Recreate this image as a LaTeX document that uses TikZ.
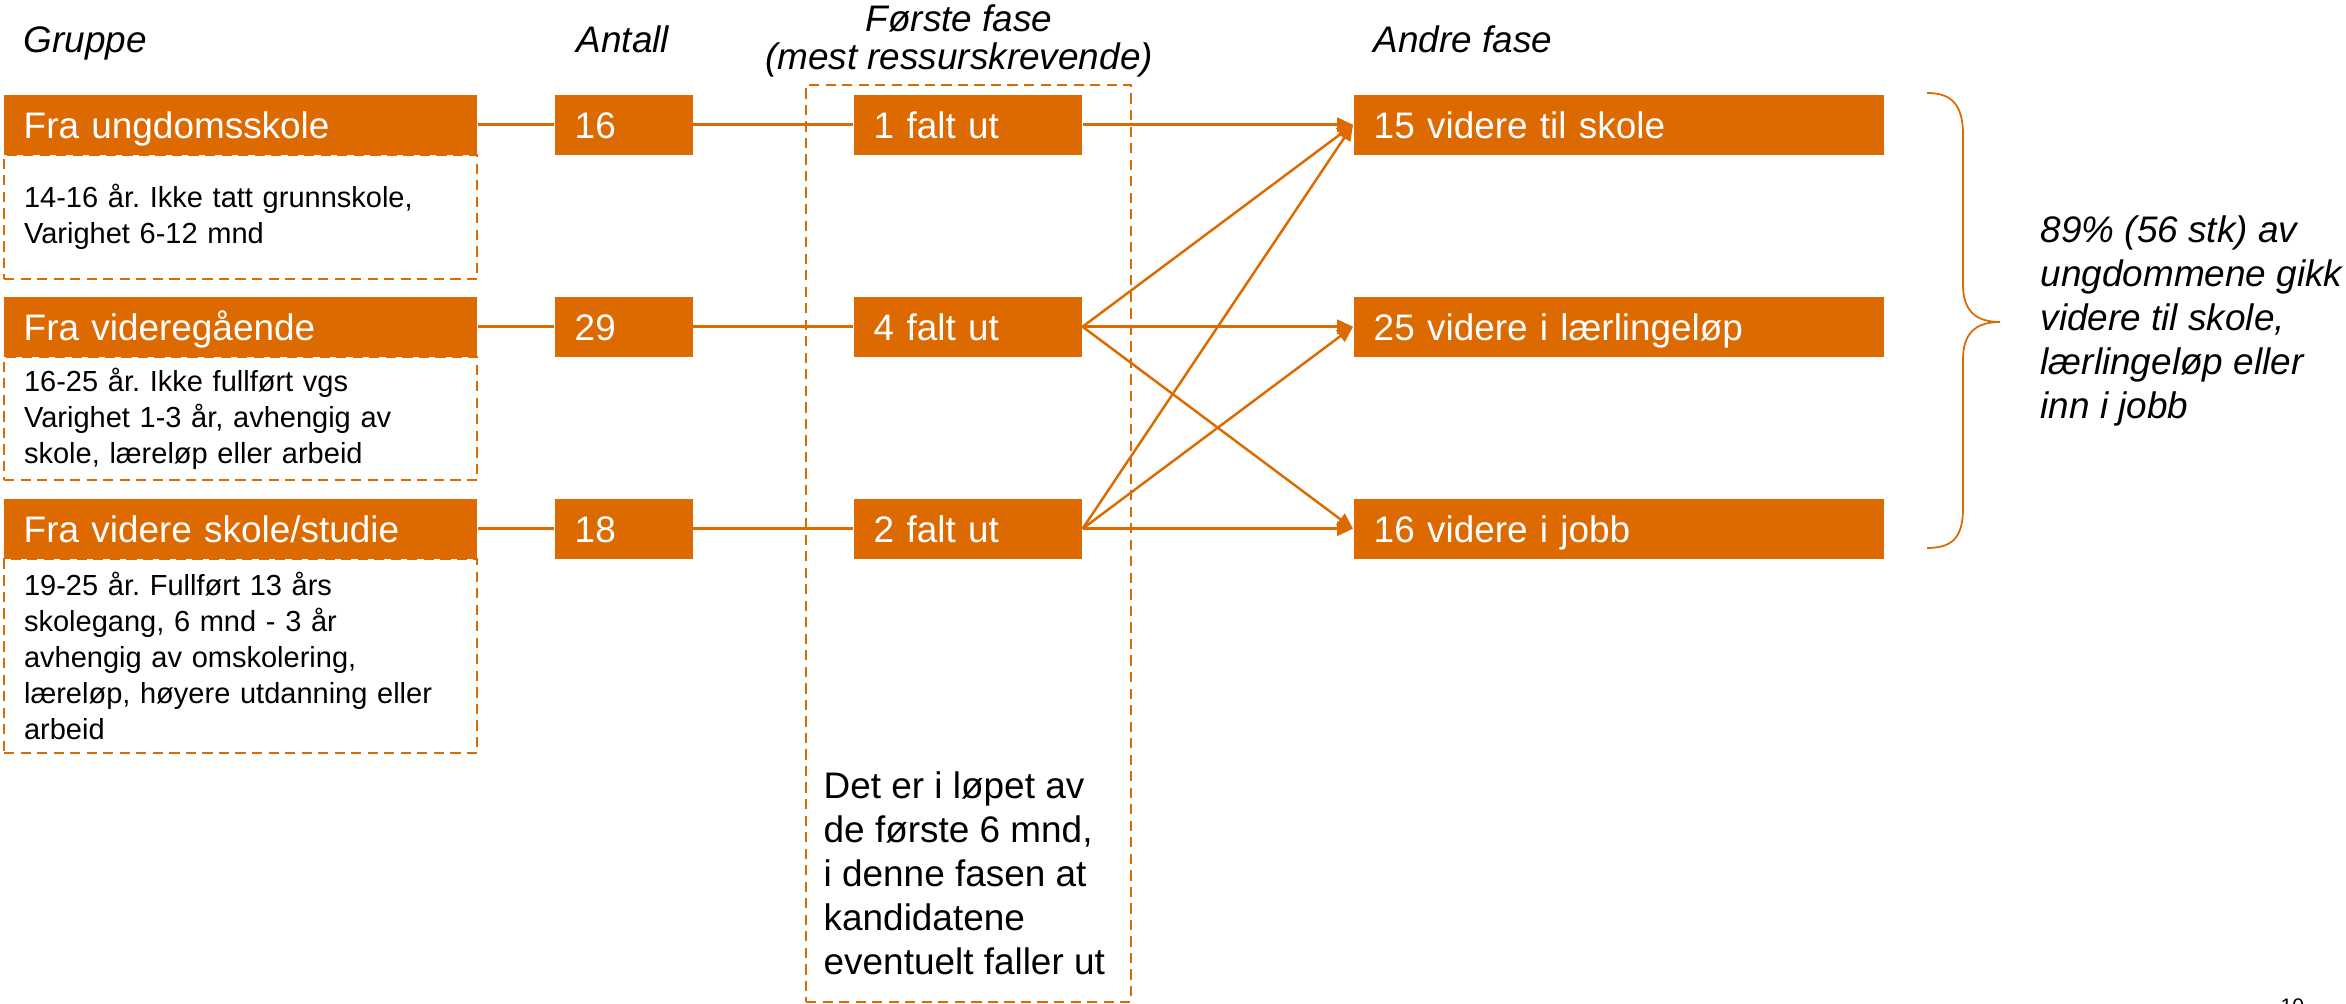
\documentclass[tikz,border=0pt]{standalone}
\usepackage{fontspec}
\setmainfont{Liberation Sans}
\usetikzlibrary{arrows.meta}
\definecolor{orng}{RGB}{220,106,0}
\frenchspacing
\begin{document}
\begin{tikzpicture}[x=0.01cm, y=-0.01cm,
  bigtxt/.style={font=\fontsize{10.5}{12.5}\selectfont},
  obox/.style={fill=orng, text=white, font=\fontsize{10.5}{12.5}\selectfont, anchor=north west, minimum height=0.6cm, inner xsep=0.2cm, inner ysep=0pt, text height=0.27cm, text depth=0pt, align=left},
  dbox/.style={draw=orng, dash pattern=on 2.9pt off 1.8pt, line width=0.6pt, anchor=north west, inner xsep=0.2cm, inner ysep=0pt, align=left, font=\fontsize{8.25}{10.25}\selectfont},
  conn/.style={draw=orng, line width=0.7pt},
  arr/.style={conn, -{Triangle[length=4.5pt,width=4pt]}},
  head/.style={font=\fontsize{10.5}{12.5}\selectfont\itshape, inner sep=0pt}
]
\useasboundingbox (0,0) rectangle (2346,1004);

% headers
\node[head, anchor=base west] (hg) at (23,53) {Gruppe};
\node[head, anchor=base west] (ha) at (576,53) {Antall};
\node[head, anchor=base] (hf1) at (959,32) {Første fase};
\node[head, anchor=base] (hf2) at (959,70) {(mest ressurskrevende)};
\node[head, anchor=base west] (hb) at (1373,53) {Andre fase};

% phase box
\node[draw=orng, dash pattern=on 2.9pt off 1.8pt, line width=0.6pt, anchor=north west, minimum width=3.25cm, minimum height=9.16cm, inner sep=0pt] (phase) at (805,84) {};

% description boxes
\node[dbox, text width=4.33cm, minimum height=1.24cm] (d1) at (3,154) {14-16 år. Ikke tatt grunnskole,\\Varighet 6-12 mnd};
\node[dbox, text width=4.33cm, minimum height=1.23cm] (d2) at (3,356) {16-25 år. Ikke fullført vgs\\Varighet 1-3 år, avhengig av\\skole, læreløp eller arbeid};
\node[dbox, text width=4.33cm, minimum height=1.94cm] (d3) at (3,558) {19-25 år. Fullført 13 års\\skolegang, 6 mnd - 3 år\\avhengig av omskolering,\\læreløp, høyere utdanning eller\\arbeid};

% group boxes
\node[obox, text width=4.33cm] (g1) at (3,94) {Fra ungdomsskole};
\node[obox, text width=4.33cm] (g2) at (3,296) {Fra videregående};
\node[obox, text width=4.33cm] (g3) at (3,498) {Fra videre skole/studie};

% count boxes
\node[obox, text width=0.98cm] (c1) at (554,94) {16};
\node[obox, text width=0.98cm] (c2) at (554,296) {29};
\node[obox, text width=0.98cm] (c3) at (554,498) {18};

% first phase boxes
\node[obox, text width=1.88cm] (f1) at (853,94) {1 falt ut};
\node[obox, text width=1.88cm] (f2) at (853,296) {4 falt ut};
\node[obox, text width=1.88cm] (f3) at (853,498) {2 falt ut};

% result boxes
\node[obox, text width=4.90cm] (r1) at (1353,94) {15 videre til skole};
\node[obox, text width=4.90cm] (r2) at (1353,296) {25 videre i lærlingeløp};
\node[obox, text width=4.90cm] (r3) at (1353,498) {16 videre i jobb};

% connectors
\foreach \i in {1,2,3} {
  \draw[conn] (g\i.east) -- (c\i.west);
  \draw[conn] (c\i.east) -- (f\i.west);
}
\draw[arr] (f1.east) -- (r1.west);
\draw[arr] (f2.east) -- (r1.west);
\draw[arr] (f2.east) -- (r2.west);
\draw[arr] (f2.east) -- (r3.west);
\draw[arr] (f3.east) -- (r1.west);
\draw[arr] (f3.east) -- (r2.west);
\draw[arr] (f3.east) -- (r3.west);

% note in phase box
\node[bigtxt, anchor=north west, inner sep=0pt, align=left] (note) at (823,771) {Det er i løpet av\\de første 6 mnd,\\i denne fasen at\\kandidatene\\eventuelt faller ut};

% brace
\draw[orng, line width=0.5pt] (1927,93) .. controls (1952,93) and (1963,105) .. (1963,135) -- (1963,285) .. controls (1963,310) and (1975,322) .. (2000,322) .. controls (1975,322) and (1963,334) .. (1963,359) -- (1963,508) .. controls (1963,538) and (1952,548) .. (1927,548);

% summary text
\node[font=\fontsize{10.5}{12.5}\selectfont\itshape, anchor=north west, inner sep=0pt, align=left] (sum) at (2040,215) {89\% (56 stk) av\\ungdommene gikk\\videre til skole,\\lærlingeløp eller\\inn i jobb};

% page number (cut off at the bottom edge, as in the reference)
\node[font=\fontsize{6}{7}\selectfont, anchor=north west, inner sep=0pt] (pg) at (2280,998) {10};
\end{tikzpicture}
\end{document}
